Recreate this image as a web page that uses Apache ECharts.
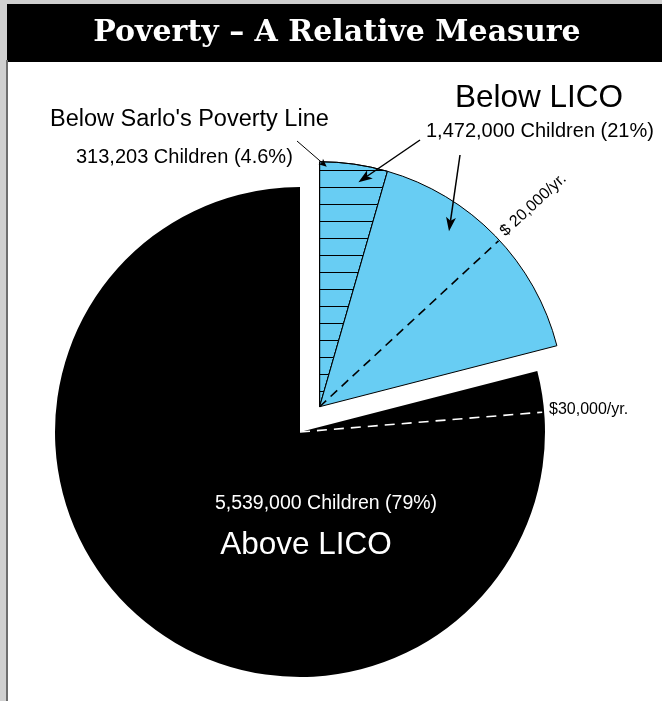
<!DOCTYPE html>
<html>
<head>
<meta charset="utf-8">
<script src="https://cdn.jsdelivr.net/npm/echarts@6/dist/echarts.min.js"></script>
<style>
  html, body { margin: 0; padding: 0; background: #d0d0d0; }
  #page { position: relative; width: 662px; height: 701px; overflow: hidden; }
  #bar { position: absolute; left: 7px; top: 4px; width: 655px; height: 58px; background: #000; }
  #rule { position: absolute; left: 6px; top: 60px; width: 2px; height: 641px; background: #6e6e6e; }
  #panel { position: absolute; left: 8px; top: 62px; width: 654px; height: 639px; background: #fff; }
  #chart { position: absolute; left: 0; top: 0; width: 662px; height: 701px; }
</style>
</head>
<body>
<div id="page">
  <div id="bar"></div>
  <div id="rule"></div>
  <div id="panel"></div>
  <div id="chart"></div>
</div>
<script>
// Children by family income (counts)
const aboveLico = 5539000;
const belowLico = 1472000;
const belowSarlo = 313203;            // part of the Below LICO group
const sliceNames = ["Below Sarlo's Poverty Line", 'Below LICO', 'Above LICO'];

// Income thresholds, as cumulative share of children clockwise from the top
const incomeMarks = ['$ 20,000/yr.', '$30,000/yr.'];
const incomeShares = [0.131, 0.237];

// Text blocks
const chartTitle = 'Poverty \u2013 A Relative Measure';
const sarloTitle = "Below Sarlo's Poverty Line";
const sarloCount = '313,203 Children (4.6%)';
const licoTitle = 'Below LICO';
const licoCount = '1,472,000 Children (21%)';
const aboveCount = '5,539,000 Children (79%)';
const aboveTitle = 'Above LICO';

const chart = echarts.init(document.getElementById('chart'), null, { renderer: 'canvas' });

const total = aboveLico + belowLico;
const R = 245;
const mainCenter = [300, 432];
const explode = 32;
const toRad = d => d * Math.PI / 180;
// bisector of the Below LICO group, measured clockwise from the top
const licoBisector = (belowLico / total) * 360 / 2;
const licoCenter = [
  mainCenter[0] + explode * Math.sin(toRad(licoBisector)),
  mainCenter[1] - explode * Math.cos(toRad(licoBisector))
];
function polar(c, r, deg) {
  return [c[0] + r * Math.sin(toRad(deg)), c[1] - r * Math.cos(toRad(deg))];
}

const blue = '#68cdf3';
const hidden = { color: 'rgba(0,0,0,0)', borderWidth: 0 };
const font = '"Liberation Sans", Arial, sans-serif';

function arrow(from, to, lw, hl, hw) {
  const dx = to[0] - from[0], dy = to[1] - from[1];
  const L = Math.hypot(dx, dy), ux = dx / L, uy = dy / L, px = -uy, py = ux;
  const base = [to[0] - ux * hl, to[1] - uy * hl];
  const notch = [to[0] - ux * hl * 0.75, to[1] - uy * hl * 0.75];
  return [
    { type: 'line', z: 20, shape: { x1: from[0], y1: from[1], x2: notch[0], y2: notch[1] },
      style: { stroke: '#000', lineWidth: lw } },
    { type: 'polygon', z: 20, shape: { points: [to, [base[0] + px * hw, base[1] + py * hw], notch, [base[0] - px * hw, base[1] - py * hw]] },
      style: { fill: '#000' } }
  ];
}
function label(text, x, y, size, opts) {
  opts = opts || {};
  const align = opts.align || 'left';
  return {
    type: 'text', z: 20, x: x, y: y, rotation: opts.rotation || 0,
    style: {
      text: text, fill: opts.fill || '#000',
      fontSize: size, fontFamily: opts.family || font, fontWeight: opts.weight || 'normal',
      align: align, textAlign: align, verticalAlign: 'middle', textVerticalAlign: 'middle'
    }
  };
}

// threshold dashes
const d20 = incomeShares[0] * 360;
const d30 = incomeShares[1] * 360;
const end20 = polar(licoCenter, R - 1, d20);
const end30 = polar(mainCenter, R - 2, d30);
const txt20 = polar(licoCenter, R + 7, d20 - 0.6);

const graphics = [
  label(chartTitle, 337, 33, 30, { fill: '#fff', weight: 'bold', family: '"DejaVu Serif", serif', align: 'center' }),
  { type: 'line', z: 20, shape: { x1: licoCenter[0], y1: licoCenter[1], x2: end20[0], y2: end20[1] },
    style: { stroke: '#000', lineWidth: 1.6, lineDash: [9, 6] } },
  { type: 'line', z: 20, shape: { x1: mainCenter[0], y1: mainCenter[1], x2: end30[0], y2: end30[1] },
    style: { stroke: '#fff', lineWidth: 1.6, lineDash: [10, 7] } },
  label(incomeMarks[0], txt20[0], txt20[1], 16, { rotation: toRad(90 - d20) }),
  label(incomeMarks[1], 549, 410, 16),
  label(sarloTitle, 50, 120, 23.5),
  label(sarloCount, 76, 157, 20),
  label(licoTitle, 455, 98, 31.5),
  label(licoCount, 426, 131, 20),
  label(aboveCount, 326, 504, 19.5, { fill: '#fff', align: 'center' }),
  label(aboveTitle, 306, 545, 31.5, { fill: '#fff', align: 'center' })
]
  .concat(arrow([297, 141], polar(licoCenter, 0.98 * R, 1.7), 1, 8, 3.5))
  .concat(arrow([420, 140], polar(licoCenter, 0.93 * R, 9.8), 1.5, 14, 5))
  .concat(arrow([460, 155], polar(licoCenter, 0.89 * R, 36.4), 1.5, 14, 5));

const pieCommon = {
  type: 'pie', radius: R, startAngle: 90, clockwise: true,
  avoidLabelOverlap: false, silent: true, animation: false,
  label: { show: false }, labelLine: { show: false },
  emphasis: { disabled: true }
};

chart.setOption({
  animation: false,
  graphic: graphics,
  series: [
    Object.assign({}, pieCommon, {
      name: 'main', center: mainCenter, z: 2,
      data: [
        { name: 'Below LICO group', value: belowLico, itemStyle: hidden },
        { name: sliceNames[2], value: aboveLico, itemStyle: { color: '#000', borderWidth: 0 } }
      ]
    }),
    Object.assign({}, pieCommon, {
      name: 'exploded', center: licoCenter, z: 3,
      data: [
        { name: sliceNames[0], value: belowSarlo,
          itemStyle: { color: blue, borderColor: '#000', borderWidth: 1,
            decal: { symbol: 'rect', symbolSize: 1, color: '#000', dashArrayX: [10, 0], dashArrayY: [1, 16] } } },
        { name: sliceNames[1], value: belowLico - belowSarlo,
          itemStyle: { color: blue, borderColor: '#000', borderWidth: 1 } },
        { name: 'Above LICO group', value: aboveLico, itemStyle: hidden }
      ]
    })
  ]
});
</script>
</body>
</html>
